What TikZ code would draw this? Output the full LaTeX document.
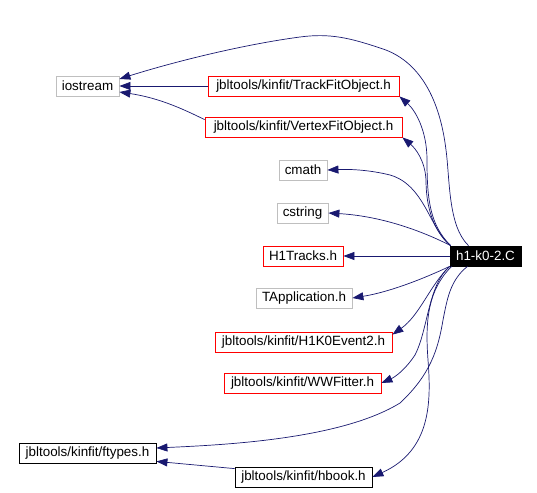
\documentclass[tikz,border=0pt]{standalone}
\usepackage{fontspec}
\setmainfont{Liberation Sans}
\usetikzlibrary{arrows.meta}
\definecolor{edgeblue}{RGB}{25,25,112}
\definecolor{greyline}{RGB}{191,191,191}
\begin{document}
\begin{tikzpicture}[x=1pt,y=-1pt,
  box/.style={draw, rectangle, minimum height=20pt, inner sep=0pt, font=\fontsize{13.4}{16}\selectfont, line width=0.8pt},
  sysbox/.style={box, draw=greyline},
  redbox/.style={box, draw=red},
  blkbox/.style={box, draw=black},
  mainbox/.style={box, draw=black, fill=black, text=white},
  dep/.style={draw=edgeblue, line width=0.7pt, -{Triangle[length=11pt,width=8pt]}}]
\useasboundingbox (0,0) rectangle (537,492);
\node[sysbox, minimum width=63pt]  (io)  at (87.5,86)  {iostream};
\node[redbox, minimum width=191pt] (tf)  at (303.5,86) {jbltools/kinfit/TrackFitObject.h};
\node[redbox, minimum width=197pt] (vf)  at (303.5,127) {jbltools/kinfit/VertexFitObject.h};
\node[sysbox, minimum width=48pt]  (cm)  at (303,170) {cmath};
\node[sysbox, minimum width=51pt]  (cs)  at (302.5,213) {cstring};
\node[redbox, minimum width=80pt]  (h1t) at (303,256) {H1Tracks.h};
\node[mainbox, minimum width=71pt] (h1)  at (485.5,256) {h1-k0-2.C};
\node[sysbox, minimum width=96pt]  (ta)  at (304,298) {TApplication.h};
\node[redbox, minimum width=177pt] (ev)  at (303.5,342) {jbltools/kinfit/H1K0Event2.h};
\node[redbox, minimum width=157pt] (ww)  at (302.5,383) {jbltools/kinfit/WWFitter.h};
\node[blkbox, minimum width=137pt] (ft)  at (87.5,453) {jbltools/kinfit/ftypes.h};
\node[blkbox, minimum width=137pt] (hb)  at (303.5,477) {jbltools/kinfit/hbook.h};

\draw[dep] ([xshift=-17pt]h1.north) .. controls (448,226) and (450,180) .. (446,150)
   .. controls (440,100) and (420,60) .. (380,48)
   .. controls (350,38) and (330,33) .. (300,37)
   .. controls (240,45) and (170,63) .. ([yshift=7pt]io.east);
\draw[dep] ([xshift=1pt]h1.north west) .. controls (430,225) and (427,200) .. (427,160)
   .. controls (427,130) and (415,110) .. (tf.south east);
\draw[dep] ([xshift=1pt]h1.north west) .. controls (430,228) and (426,200) .. (426,180)
   .. controls (425,160) and (415,148) .. (vf.south east);
\draw[dep] ([xshift=1pt]h1.north west) .. controls (430,230) and (425,185) .. (390,175)
   .. controls (370,170) and (350,169) .. (cm.east);
\draw[dep] ([xshift=1pt]h1.north west) .. controls (420,230) and (380,216) .. (cs.east);
\draw[dep] (h1) -- (h1t);
\draw[dep] (h1.south west) .. controls (425,278) and (390,292) .. (ta.east);
\draw[dep] (h1.south west) .. controls (430,285) and (420,315) .. ([yshift=-3pt]ev.north east);
\draw[dep] (h1.south west) .. controls (428,285) and (428,330) .. (415,355)
   .. controls (405,370) and (395,377) .. (ww.east);
\draw[dep] ([xshift=-18pt]h1.south) .. controls (450,280) and (447,300) .. (443,320)
   .. controls (438,350) and (430,375) .. (400,403)
   .. controls (340,440) and (220,445) .. ([yshift=5pt]ft.east);
\draw[dep] ([xshift=2pt]h1.south west) .. controls (428,290) and (425,320) .. (428,360)
   .. controls (431,400) and (432,450) .. (hb.east);
\draw[dep] (tf) -- (io);
\draw[dep] ([yshift=-3pt]vf.north west) .. controls (185,110) and (160,98) .. ([yshift=-6pt]io.east);
\draw[dep] ([yshift=-2pt]hb.north west) -- ([yshift=2pt]ft.south east);
\end{tikzpicture}
\end{document}
